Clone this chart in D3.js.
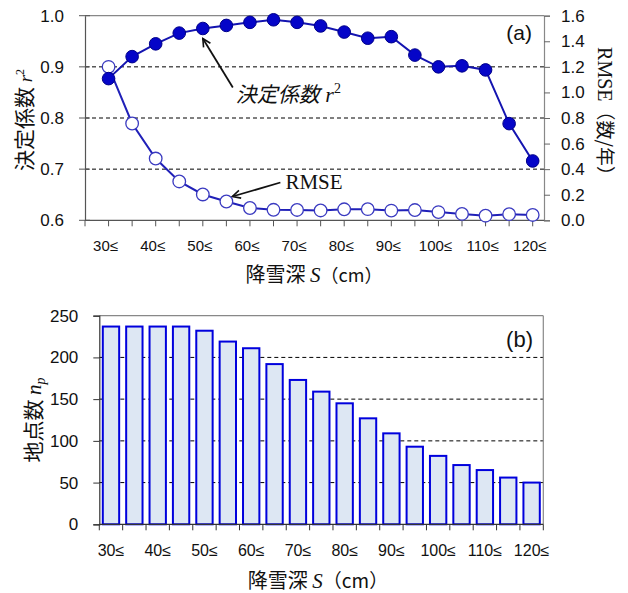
<!DOCTYPE html>
<html><head><meta charset="utf-8">
<script src="https://cdn.jsdelivr.net/npm/d3@7"></script>
<style>
body{margin:0;background:#fff;}
svg{display:block;}
</style></head>
<body>
<svg id="chart" width="628" height="593"></svg>
<script>
// ---- data ----
const depths = [30,35,40,45,50,55,60,65,70,75,80,85,90,95,100,105,110,115,120];
const tickLabels = ["30≤","40≤","50≤","60≤","70≤","80≤","90≤","100≤","110≤","120≤"];
const r2 = [0.877,0.920,0.945,0.966,0.975,0.981,0.987,0.992,0.987,0.980,0.968,0.956,0.959,0.923,0.900,0.902,0.894,0.789,0.716];
const rmse = [1.20,0.757,0.483,0.304,0.202,0.147,0.096,0.082,0.081,0.077,0.086,0.087,0.076,0.080,0.064,0.050,0.036,0.048,0.042];
const nPoints = [237,237,237,237,232,219,211,192,173,159,145,127,109,93,82,71,65,56,50];
const r2Ticks = [0.6,0.7,0.8,0.9,1.0];
const rmseTicks = [0,0.2,0.4,0.6,0.8,1.0,1.2,1.4,1.6];
const npTicks = [0,50,100,150,200,250];

const svg = d3.select("#chart");
const SANS = "'Liberation Sans', Arial, sans-serif";
const CJK = "'Noto Sans CJK JP', sans-serif";
const SERIF = "'Liberation Serif', 'Times New Roman', serif";

// ---- defs ----
const defs = svg.append("defs");
defs.append("marker").attr("id","arr").attr("viewBox","0 0 10 10").attr("refX",9).attr("refY",5)
  .attr("markerWidth",10).attr("markerHeight",10).attr("orient","auto").attr("markerUnits","userSpaceOnUse")
  .append("path").attr("d","M1,1 L9,5 L1,9").attr("fill","none").attr("stroke","#111").attr("stroke-width",1.6);

// ================= TOP PANEL (a) =================
const A = {l:85, r:544, t:15.7, b:220.3};
const xA = d3.scaleLinear().domain([25,122.4]).range([A.l,A.r]);
const yL = d3.scaleLinear().domain([0.6,1.0]).range([A.b,A.t]);
const yR = d3.scaleLinear().domain([0,1.6]).range([A.b,A.t]);
const gA = svg.append("g");

// gridlines
gA.append("g").selectAll("line").data(r2Ticks.filter(v=>v>0.6 && v<1.0)).join("line")
  .attr("x1",A.l).attr("x2",A.r).attr("y1",d=>yL(d)).attr("y2",d=>yL(d))
  .attr("stroke","#000").attr("stroke-width",1).attr("stroke-dasharray","4,3");
// frame top
gA.append("line").attr("x1",A.l).attr("x2",A.r).attr("y1",A.t).attr("y2",A.t).attr("stroke","#888").attr("stroke-width",1.2);

// left axis
const axL = d3.axisLeft(yL).tickValues(r2Ticks).tickFormat(d3.format(".1f")).tickSize(0).tickPadding(21);
const gL = gA.append("g").attr("transform",`translate(${A.l},0)`).call(axL);
gL.select(".domain").attr("stroke","#555").attr("stroke-width",1.2);
gL.selectAll("text").attr("font-family",SANS).attr("font-size",17).attr("fill","#111");
gL.selectAll(".tk").data(r2Ticks).join("line").attr("class","tk").attr("x1",-6).attr("x2",5)
  .attr("y1",d=>yL(d)).attr("y2",d=>yL(d)).attr("stroke","#555");

// right axis
const axR = d3.axisRight(yR).tickValues(rmseTicks).tickFormat(d3.format(".1f")).tickSize(6).tickPadding(11);
const gR = gA.append("g").attr("transform",`translate(${A.r},0)`).call(axR);
gR.select(".domain").attr("stroke","#888").attr("stroke-width",1.2);
gR.selectAll(".tick line").attr("stroke","#666");
gR.selectAll("text").attr("font-family",SANS).attr("font-size",17).attr("fill","#111");

// bottom axis
const xTickVals = [25].concat(depths);
const gB = gA.append("g").attr("transform",`translate(0,${A.b})`);
gB.append("line").attr("x1",A.l).attr("x2",A.r).attr("stroke","#555").attr("stroke-width",1.2);
gB.selectAll(".tk").data(xTickVals).join("line").attr("class","tk")
  .attr("x1",d=>xA(d)).attr("x2",d=>xA(d)).attr("y1",0).attr("y2",6).attr("stroke","#555");
const labDepths = depths.filter((d,i)=>i%2===0);
gB.selectAll(".lb").data(labDepths).join("text").attr("class","lb")
  .attr("x",d=>xA(d)-3).attr("y",31).attr("text-anchor","middle")
  .attr("font-family",SANS).attr("font-size",15).attr("fill","#111")
  .text((d,i)=>tickLabels[i]);

// lines and markers
const lineR = d3.line().x((d,i)=>xA(depths[i])).y(d=>yR(d));
const lineL = d3.line().x((d,i)=>xA(depths[i])).y(d=>yL(d));
gA.append("path").datum(rmse).attr("d",lineR).attr("fill","none").attr("stroke","#2020b8").attr("stroke-width",2);
gA.append("path").datum(r2).attr("d",lineL).attr("fill","none").attr("stroke","#1414b0").attr("stroke-width",2);
gA.selectAll(".ro").data(rmse).join("circle").attr("class","ro")
  .attr("cx",(d,i)=>xA(depths[i])).attr("cy",d=>yR(d)).attr("r",6.3)
  .attr("fill","#fff").attr("stroke","#3a3ac0").attr("stroke-width",1.3);
gA.selectAll(".rf").data(r2).join("circle").attr("class","rf")
  .attr("cx",(d,i)=>xA(depths[i])).attr("cy",d=>yL(d)).attr("r",6.3)
  .attr("fill","#0505c8").attr("stroke","#00008a").attr("stroke-width",1);

// annotations
const tip1 = [xA(50), yL(r2[4])+10];
gA.append("line").attr("x1",tip1[0]+30).attr("y1",tip1[1]+49).attr("x2",tip1[0]).attr("y2",tip1[1])
  .attr("stroke","#111").attr("stroke-width",1.8).attr("marker-end","url(#arr)");
const t1 = gA.append("text").attr("x",tip1[0]+33).attr("y",tip1[1]+64).attr("fill","#111");
t1.append("tspan").attr("font-family",CJK).attr("font-style","italic").attr("font-size",21).text("決定係数");
t1.append("tspan").attr("font-family",SERIF).attr("font-style","italic").attr("font-size",22).text(" r");
t1.append("tspan").attr("font-family",SERIF).attr("font-size",14).attr("dy",-9).text("2");

const tip2 = [xA(55)+6, yR(rmse[5])-5];
gA.append("line").attr("x1",tip2[0]+48).attr("y1",tip2[1]-14).attr("x2",tip2[0]).attr("y2",tip2[1])
  .attr("stroke","#111").attr("stroke-width",1.8).attr("marker-end","url(#arr)");
gA.append("text").attr("x",tip2[0]+53).attr("y",tip2[1]-8).attr("font-family",SERIF).attr("font-size",21)
  .attr("fill","#111").text("RMSE");

gA.append("text").attr("x",532).attr("y",40).attr("text-anchor","end").attr("font-family",SANS)
  .attr("font-size",21).attr("fill","#111").text("(a)");

// axis titles
const tL = gA.append("text").attr("transform",`translate(32,120) rotate(-90)`)
  .attr("text-anchor","middle").attr("fill","#111");
tL.append("tspan").attr("font-family",CJK).attr("font-size",21).text("決定係数 ");
tL.append("tspan").attr("font-family",SERIF).attr("font-style","italic").attr("font-size",19).text("r");
tL.append("tspan").attr("font-family",SERIF).attr("font-size",12).attr("dy",-8).text("2");

const tR = gA.append("text").attr("transform",`translate(598,116) rotate(90)`)
  .attr("text-anchor","middle").attr("fill","#111");
tR.append("tspan").attr("font-family",SERIF).attr("font-size",20).text("RMSE");
tR.append("tspan").attr("font-family",CJK).attr("font-size",19).text("（数/年）");

const tX1 = gA.append("text").attr("x",314).attr("y",282).attr("text-anchor","middle").attr("fill","#111");
tX1.append("tspan").attr("font-family",CJK).attr("font-size",20).text("降雪深 ");
tX1.append("tspan").attr("font-family",SERIF).attr("font-style","italic").attr("font-size",21).text("S");
tX1.append("tspan").attr("font-family",CJK).attr("font-size",18).text("（cm）");

// ================= BOTTOM PANEL (b) =================
const B = {l:99.3, r:543.3, t:315.7, b:524.3};
const xB = d3.scaleBand().domain(depths).range([B.l,B.r]).paddingInner(0.3).paddingOuter(0.15);
const yB = d3.scaleLinear().domain([0,250]).range([B.b,B.t]);
const gb = svg.append("g");

gb.append("g").selectAll("line").data(npTicks.filter(v=>v>0 && v<250)).join("line")
  .attr("x1",B.l).attr("x2",B.r).attr("y1",d=>yB(d)).attr("y2",d=>yB(d))
  .attr("stroke","#000").attr("stroke-width",1).attr("stroke-dasharray","4,3");
gb.append("line").attr("x1",B.l).attr("x2",B.r).attr("y1",B.t).attr("y2",B.t).attr("stroke","#888").attr("stroke-width",1.2);
gb.append("line").attr("x1",B.r).attr("x2",B.r).attr("y1",B.t).attr("y2",B.b).attr("stroke","#888").attr("stroke-width",1.2);

gb.selectAll(".bar").data(nPoints).join("rect").attr("class","bar")
  .attr("x",(d,i)=>xB(depths[i])).attr("width",xB.bandwidth())
  .attr("y",d=>yB(d)).attr("height",d=>yB(0)-yB(d))
  .attr("fill","#dde7f3").attr("stroke","#0000dd").attr("stroke-width",2);

const axB = d3.axisLeft(yB).tickValues(npTicks).tickSize(6).tickPadding(15);
const gBL = gb.append("g").attr("transform",`translate(${B.l},0)`).call(axB);
gBL.select(".domain").attr("stroke","#333").attr("stroke-width",1.2);
gBL.selectAll(".tick line").attr("stroke","#333");
gBL.selectAll("text").attr("font-family",SANS).attr("font-size",17).attr("fill","#111");

const gBX = gb.append("g").attr("transform",`translate(0,${B.b})`);
gBX.append("line").attr("x1",B.l).attr("x2",B.r).attr("stroke","#333").attr("stroke-width",1.2);
const bounds = depths.map(d=>xB(d)-xB.step()*xB.paddingInner()/2).concat([B.r]);
gBX.selectAll(".tk").data(bounds).join("line").attr("class","tk")
  .attr("x1",d=>d).attr("x2",d=>d).attr("y1",0).attr("y2",6).attr("stroke","#333");
gBX.selectAll(".lb").data(labDepths).join("text").attr("class","lb")
  .attr("x",d=>xB(d)+xB.bandwidth()/2).attr("y",32).attr("text-anchor","middle")
  .attr("font-family",SANS).attr("font-size",16).attr("fill","#111")
  .text((d,i)=>tickLabels[i]);

gb.append("text").attr("x",533).attr("y",347).attr("text-anchor","end").attr("font-family",SANS)
  .attr("font-size",22).attr("fill","#111").text("(b)");

const tLB = gb.append("text").attr("transform",`translate(41,420) rotate(-90)`)
  .attr("text-anchor","middle").attr("fill","#111");
tLB.append("tspan").attr("font-family",CJK).attr("font-size",21).text("地点数 ");
tLB.append("tspan").attr("font-family",SERIF).attr("font-style","italic").attr("font-size",21).text("n");
tLB.append("tspan").attr("font-family",SERIF).attr("font-style","italic").attr("font-size",14).attr("dy",4).text("p");

const tX2 = gb.append("text").attr("x",318).attr("y",588).attr("text-anchor","middle").attr("fill","#111");
tX2.append("tspan").attr("font-family",CJK).attr("font-size",20).text("降雪深 ");
tX2.append("tspan").attr("font-family",SERIF).attr("font-style","italic").attr("font-size",21).text("S");
tX2.append("tspan").attr("font-family",CJK).attr("font-size",19).text("（cm）");
</script>
</body></html>
